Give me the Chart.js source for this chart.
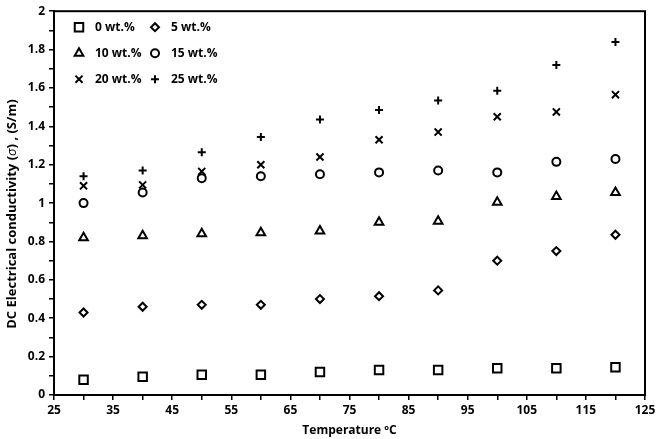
<!DOCTYPE html>
<html>
<head>
<meta charset="utf-8">
<script src="https://cdn.jsdelivr.net/npm/chart.js@4.4.0/dist/chart.umd.min.js"></script>
<style>
  html, body { margin: 0; padding: 0; background: #fff; }
</style>
</head>
<body>
<canvas id="graphChart" width="660" height="439"></canvas>
<script>
const temps = [30, 40, 50, 60, 70, 80, 90, 100, 110, 120];

const wt0  = [0.08, 0.095, 0.105, 0.105, 0.12, 0.13, 0.13, 0.14, 0.14, 0.145];
const wt5  = [0.43, 0.46, 0.47, 0.47, 0.50, 0.515, 0.545, 0.70, 0.75, 0.835];
const wt10 = [0.82, 0.83, 0.84, 0.845, 0.855, 0.90, 0.905, 1.005, 1.035, 1.055];
const wt15 = [1.00, 1.055, 1.13, 1.14, 1.15, 1.16, 1.17, 1.16, 1.215, 1.23];
const wt20 = [1.09, 1.095, 1.165, 1.20, 1.24, 1.33, 1.37, 1.45, 1.475, 1.565];
const wt25 = [1.14, 1.17, 1.265, 1.345, 1.435, 1.485, 1.535, 1.585, 1.72, 1.84];

const seriesLabels = ['0 wt.%', '5 wt.%', '10 wt.%', '15 wt.%', '20 wt.%', '25 wt.%'];

const fontFamily = '"Open Sans", Lato, sans-serif';

const toPoints = vals => vals.map((v, i) => ({ x: temps[i], y: v }));

const markers = [
  { style: 'rect', radius: 6 },
  { style: 'rectRot', radius: 4 },
  { style: 'triangle', radius: 5 },
  { style: 'circle', radius: 4 },
  { style: 'crossRot', radius: 5 },
  { style: 'cross', radius: 4 }
];

const datasets = [wt0, wt5, wt10, wt15, wt20, wt25].map((vals, i) => ({
  label: seriesLabels[i],
  data: toPoints(vals),
  showLine: false,
  pointStyle: markers[i].style,
  pointRadius: markers[i].radius,
  pointHoverRadius: markers[i].radius,
  borderColor: '#000',
  backgroundColor: '#fff',
  borderWidth: 2
}));

// frame around the plot area (top and right sides too)
const frame = {
  id: 'frame',
  afterDatasetsDraw(chart) {
    const a = chart.chartArea;
    const ctx = chart.ctx;
    ctx.save();
    ctx.strokeStyle = '#000';
    ctx.lineWidth = 2;
    ctx.strokeRect(a.left, a.top, a.right - a.left, a.bottom - a.top);
    ctx.restore();
  }
};

// two-column legend inside the plot, top left
const boxLegend = {
  id: 'boxLegend',
  afterDraw(chart) {
    const a = chart.chartArea;
    const ctx = chart.ctx;
    ctx.save();
    ctx.font = 'bold 12px ' + fontFamily;
    ctx.textBaseline = 'middle';
    chart.data.datasets.forEach((ds, i) => {
      const col = i % 2;
      const row = Math.floor(i / 2);
      const x = a.left + 25 + col * 76;
      const y = a.top + 16 + row * 26;
      ctx.strokeStyle = '#000';
      ctx.fillStyle = '#fff';
      ctx.lineWidth = ds.borderWidth;
      Chart.helpers.drawPoint(ctx, {
        pointStyle: ds.pointStyle,
        radius: ds.pointRadius,
        borderWidth: ds.borderWidth,
        rotation: 0
      }, x, y);
      ctx.fillStyle = '#000';
      ctx.fillText(ds.label, x + 16, y);
    });
    ctx.restore();
  }
};

// y title with an italic sigma
const yTitle = {
  id: 'yTitle',
  afterDraw(chart) {
    const a = chart.chartArea;
    const ctx = chart.ctx;
    const parts = [
      { text: 'DC Electrical conductivity (', font: 'bold 13px ' + fontFamily },
      { text: 'σ', font: 'italic 13px ' + fontFamily },
      { text: ') , (S/m)', font: 'bold 13px ' + fontFamily }
    ];
    ctx.save();
    ctx.translate(12, (a.top + a.bottom) / 2 + 11);
    ctx.rotate(-Math.PI / 2);
    let total = 0;
    parts.forEach(p => {
      ctx.font = p.font;
      p.w = ctx.measureText(p.text).width;
      total += p.w;
    });
    let x = -total / 2;
    ctx.fillStyle = '#000';
    ctx.textBaseline = 'middle';
    parts.forEach(p => {
      ctx.font = p.font;
      ctx.fillText(p.text, x, 0);
      x += p.w;
    });
    ctx.restore();
  }
};

const ctx = document.getElementById('graphChart').getContext('2d');

const graphChart = new Chart(ctx, {
  type: 'scatter',
  data: { datasets },
  options: {
    responsive: false,
    animation: false,
    layout: {
      padding: { top: 5, right: 15, left: 0, bottom: 0 }
    },
    plugins: {
      legend: { display: false },
      tooltip: { enabled: false }
    },
    scales: {
      x: {
        type: 'linear',
        min: 25,
        max: 125,
        afterFit: scale => { scale.height = 44; },
        border: { display: true, color: '#000', width: 2 },
        grid: {
          drawOnChartArea: false,
          drawTicks: true,
          tickLength: 5,
          color: '#000',
          lineWidth: 1.5
        },
        ticks: {
          stepSize: 5,
          autoSkip: false,
          maxRotation: 0,
          padding: 3,
          color: '#000',
          font: { family: fontFamily, size: 12, weight: 'bold' },
          callback: v => ((v - 25) % 10 === 0 ? String(v) : '')
        },
        title: {
          display: true,
          text: 'Temperature ºC',
          color: '#000',
          padding: { top: 0, bottom: 1 },
          font: { family: fontFamily, size: 12, weight: 'bold' }
        }
      },
      y: {
        min: 0,
        max: 2,
        afterFit: scale => { scale.width = 54; },
        border: { display: true, color: '#000', width: 2 },
        grid: {
          drawOnChartArea: false,
          drawTicks: true,
          tickLength: 5,
          color: '#000',
          lineWidth: 1.5
        },
        ticks: {
          stepSize: 0.1,
          autoSkip: false,
          padding: 4,
          color: '#000',
          font: { family: fontFamily, size: 12, weight: 'bold' },
          callback: v => {
            const tenths = Math.round(v * 10);
            return tenths % 2 === 0 ? String(tenths / 10) : '';
          }
        }
      }
    }
  },
  plugins: [frame, boxLegend, yTitle]
});
</script>
</body>
</html>
